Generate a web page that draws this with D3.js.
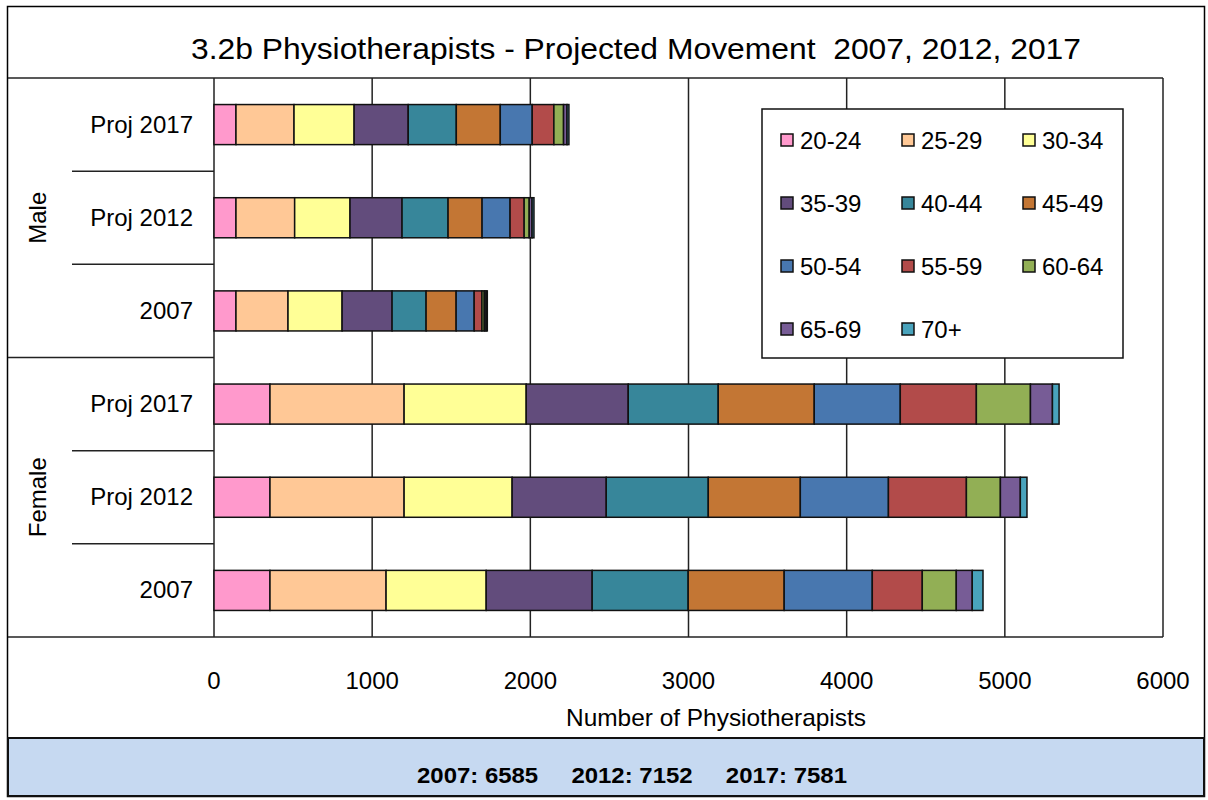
<!DOCTYPE html>
<html>
<head>
<meta charset="utf-8">
<script src="https://cdn.jsdelivr.net/npm/d3@7"></script>
<style>
  body { margin: 0; background: #fff; }
  svg { display: block; font-family: "Liberation Sans", Arial, sans-serif; }
</style>
</head>
<body>
<svg width="1208" height="800"></svg>
<script>
const ageGroups = ['20-24', '25-29', '30-34', '35-39', '40-44', '45-49', '50-54', '55-59', '60-64', '65-69', '70+'];
const genders = ['Male', 'Female'];
const years = ['Proj 2017', 'Proj 2012', '2007'];

const maleProj2017 = [139, 367, 380, 342, 304, 278, 202, 137, 61, 22, 12];
const maleProj2012 = [139, 371, 350, 329, 291, 215, 177, 89, 32, 18, 12];
const male2007 = [139, 329, 342, 316, 215, 190, 114, 49, 15, 11, 8];
const femaleProj2017 = [354, 848, 772, 645, 569, 607, 544, 481, 342, 139, 42];
const femaleProj2012 = [354, 848, 683, 595, 645, 582, 557, 493, 215, 126, 42];
const female2007 = [354, 734, 633, 670, 607, 607, 557, 316, 215, 101, 68];

const xTicks = [0, 1000, 2000, 3000, 4000, 5000, 6000];
const totals = ['2007: 6585', '2012: 7152', '2017: 7581'];

const colors = ['#FF99CC', '#FFC896', '#FFFF96', '#624C7C', '#37869A', '#C37634', '#4877AF', '#B24B4A', '#92AF55', '#775C96', '#49A3BC'];

const rows = [
  { gender: 'Male', year: 'Proj 2017', values: maleProj2017 },
  { gender: 'Male', year: 'Proj 2012', values: maleProj2012 },
  { gender: 'Male', year: '2007', values: male2007 },
  { gender: 'Female', year: 'Proj 2017', values: femaleProj2017 },
  { gender: 'Female', year: 'Proj 2012', values: femaleProj2012 },
  { gender: 'Female', year: '2007', values: female2007 },
];
rows.forEach((r) => { r.key = r.gender + ' ' + r.year; });

const svg = d3.select('svg');

// chart frame
svg.append('rect')
  .attr('x', 7.5).attr('y', 6.5).attr('width', 1197).attr('height', 790)
  .attr('fill', '#fff').attr('stroke', '#000').attr('stroke-width', 1.5);

svg.append('text')
  .attr('x', 636).attr('y', 59)
  .attr('text-anchor', 'middle')
  .attr('font-size', 30)
  .style('white-space', 'pre')
  .attr('textLength', 890).attr('lengthAdjust', 'spacingAndGlyphs')
  .text('3.2b Physiotherapists - Projected Movement\u00a0 2007, 2012, 2017');

const x = d3.scaleLinear().domain([0, 6000]).range([214, 1163]);
const y = d3.scaleBand().domain(rows.map((r) => r.key)).range([78, 637])
  .paddingInner(0.57).paddingOuter(0.285);
const step = y.step();

// gridlines
svg.append('g').selectAll('line')
  .data(xTicks).enter()
  .append('line')
  .attr('x1', (d) => x(d)).attr('x2', (d) => x(d))
  .attr('y1', 78).attr('y2', 637)
  .attr('stroke', '#222').attr('stroke-width', 1.5);

svg.append('line').attr('x1', 8).attr('x2', x(6000)).attr('y1', 78).attr('y2', 78)
  .attr('stroke', '#222').attr('stroke-width', 1.5);
svg.append('line').attr('x1', 8).attr('x2', x(6000)).attr('y1', 637).attr('y2', 637)
  .attr('stroke', '#222').attr('stroke-width', 1.5);

// category separators
const sepY = d3.range(1, rows.length).map((i) => 78 + i * step);
svg.append('g').selectAll('line')
  .data(sepY).enter()
  .append('line')
  .attr('x1', (d, i) => (i === 2 ? 8 : 72)).attr('x2', 214)
  .attr('y1', (d) => d).attr('y2', (d) => d)
  .attr('stroke', '#222').attr('stroke-width', 1.5);

// bars
const stack = rows.map((r) => {
  let acc = 0;
  return r.values.map((v, i) => {
    const seg = { key: r.key, i, x0: acc, x1: acc + v };
    acc += v;
    return seg;
  });
});

svg.append('g').selectAll('g')
  .data(stack).enter()
  .append('g')
  .selectAll('rect')
  .data((d) => d).enter()
  .append('rect')
  .attr('x', (d) => x(d.x0))
  .attr('y', (d) => y(d.key))
  .attr('width', (d) => x(d.x1) - x(d.x0))
  .attr('height', y.bandwidth())
  .attr('fill', (d) => colors[d.i])
  .attr('stroke', '#111')
  .attr('stroke-width', 1.5);

// category labels
svg.append('g').selectAll('text')
  .data(rows).enter()
  .append('text')
  .attr('x', 193)
  .attr('y', (d) => y(d.key) + y.bandwidth() / 2 + 8)
  .attr('text-anchor', 'end')
  .attr('font-size', 24)
  .text((d) => d.year);

genders.forEach((g, gi) => {
  const cy = 78 + (gi * 3 + 1.5) * step;
  svg.append('text')
    .attr('transform', `translate(46,${cy}) rotate(-90)`)
    .attr('text-anchor', 'middle')
    .attr('font-size', 24)
    .text(g);
});

// x tick labels
svg.append('g').selectAll('text')
  .data(xTicks).enter()
  .append('text')
  .attr('x', (d) => x(d)).attr('y', 689)
  .attr('text-anchor', 'middle')
  .attr('font-size', 24)
  .text((d) => d);

svg.append('text')
  .attr('x', 716).attr('y', 726)
  .attr('text-anchor', 'middle')
  .attr('font-size', 24)
  .attr('textLength', 300).attr('lengthAdjust', 'spacingAndGlyphs')
  .text('Number of Physiotherapists');

// legend
const legend = svg.append('g');
legend.append('rect')
  .attr('x', 762).attr('y', 109).attr('width', 361).attr('height', 249)
  .attr('fill', '#fff').attr('stroke', '#111').attr('stroke-width', 1.5);

const items = legend.selectAll('g.item')
  .data(ageGroups).enter()
  .append('g')
  .attr('transform', (d, i) => `translate(${781 + (i % 3) * 121},${140 + Math.floor(i / 3) * 63})`);
items.append('rect')
  .attr('x', 0).attr('y', -6).attr('width', 12).attr('height', 12)
  .attr('fill', (d, i) => colors[i])
  .attr('stroke', '#111').attr('stroke-width', 1.5);
items.append('text')
  .attr('x', 19).attr('y', 8.5)
  .attr('font-size', 24)
  .text((d) => d);

// totals box
svg.append('rect')
  .attr('x', 8).attr('y', 738).attr('width', 1196).attr('height', 58)
  .attr('fill', '#C6D9F1').attr('stroke', '#111').attr('stroke-width', 2);

svg.append('text')
  .attr('x', 632).attr('y', 783)
  .attr('text-anchor', 'middle')
  .attr('font-size', 22)
  .attr('font-weight', 'bold')
  .style('white-space', 'pre')
  .attr('textLength', 430).attr('lengthAdjust', 'spacingAndGlyphs')
  .text(totals.join('     '));
</script>
</body>
</html>
